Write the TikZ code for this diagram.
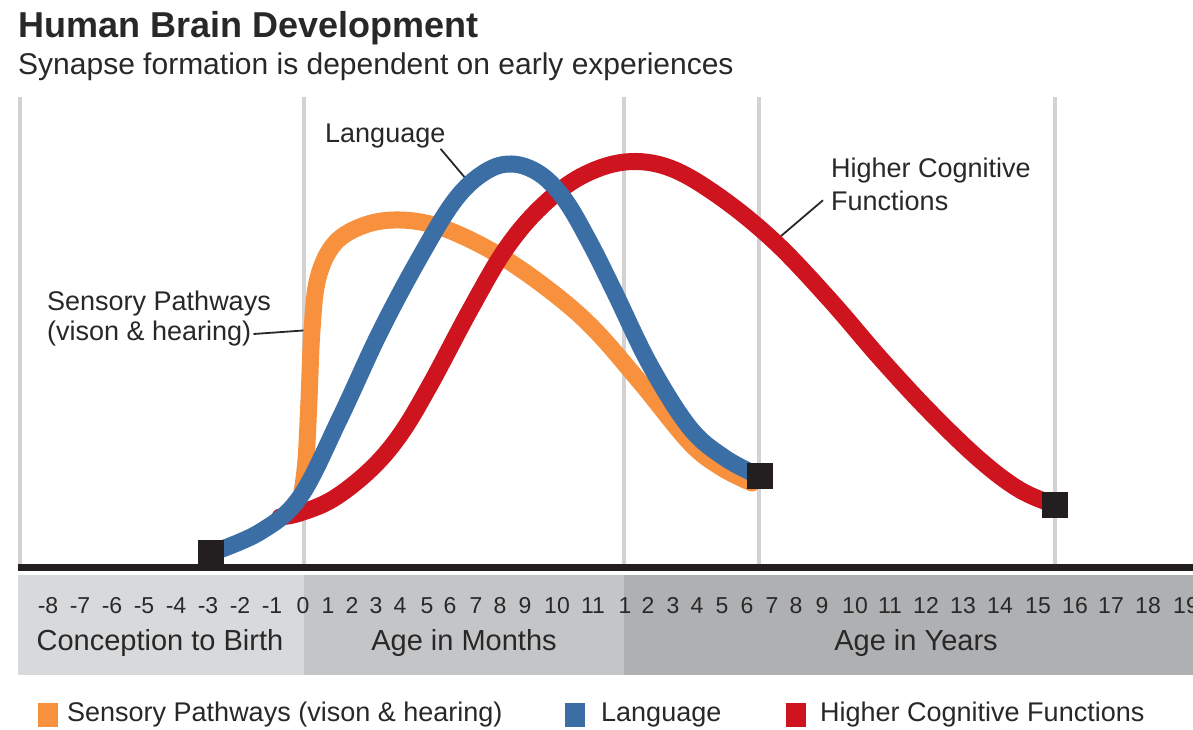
\documentclass[tikz,border=0pt]{standalone}
\usepackage{fontspec}
\setmainfont{Liberation Sans}
\definecolor{cOrange}{RGB}{247,145,61}
\definecolor{cBlue}{RGB}{59,110,164}
\definecolor{cRed}{RGB}{206,20,30}
\definecolor{cGrid}{RGB}{210,210,210}
\definecolor{cBandA}{RGB}{216,217,219}
\definecolor{cBandB}{RGB}{196,197,199}
\definecolor{cBandC}{RGB}{175,176,178}
\definecolor{cInk}{RGB}{40,40,40}
\definecolor{cSq}{RGB}{35,31,32}
\begin{document}
\begin{tikzpicture}[x=1pt,y=-1pt,
  curve/.style={line width=17pt, line join=round, line cap=round},
  marker/.style={fill=cSq, draw=none, minimum size=26pt, inner sep=0pt},
  legsq/.style={draw=none, minimum width=20pt, minimum height=24pt, inner sep=0pt},
  lbl/.style={font=\fontsize{27}{31}\selectfont, text=cInk, inner sep=0pt},
  leglbl/.style={font=\fontsize{27}{31}\selectfont, text=cInk, inner sep=0pt, anchor=west},
  band/.style={font=\fontsize{29}{33}\selectfont, text=cInk, inner sep=0pt, anchor=base},
  num/.style={font=\fontsize{23}{27}\selectfont, text=cInk, inner sep=0pt, anchor=base},
  leader/.style={draw=cInk, line width=1.8pt},
  grid/.style={draw=cGrid, line width=4pt}]
\useasboundingbox (0,0) rectangle (1193,730);
\fill[white] (0,0) rectangle (1193,730);

% title
\node[font=\fontsize{36}{40}\selectfont\bfseries, text=cInk, inner sep=0pt, anchor=base west] (title) at (18,38) {Human Brain Development};
\node[font=\fontsize{30}{34}\selectfont, text=cInk, inner sep=0pt, anchor=base west] (subtitle) at (18,75) {Synapse formation is dependent on early experiences};

% bands
\fill[cBandA] (18,575) rectangle (304,675);
\fill[cBandB] (304,575) rectangle (624,675);
\fill[cBandC] (624,575) rectangle (1193,675);

% vertical grid lines
\foreach \gx in {20,304,624,759,1055} \draw[grid] (\gx,97) -- (\gx,565);

% axis
\draw[cSq, line width=7pt] (18,567) -- (1193,567);

% numbers
\foreach \nx/\nt [count=\i] in {48/-8,80/-7,112/-6,144/-5,176/-4,208/-3,240/-2,272/-1,303/0,328/1,352/2,376/3,400/4,427/5,450/6,476/7,500/8,525/9,557/10,593/11}
  \node[num] (m\i) at (\nx,613) {\nt};
\foreach \nx/\nt [count=\i] in {625/1,648/2,673/3,697/4,722/5,747/6,772/7,796/8,822/9,855/10,890/11,926/12,963/13,1000/14,1038/15,1075/16,1111/17,1148/18,1186/19}
  \node[num] (y\i) at (\nx,613) {\nt};

\node[band] (bandA) at (160,650) {Conception to Birth};
\node[band] (bandB) at (464,650) {Age in Months};
\node[band] (bandC) at (916,650) {Age in Years};

% labels and leaders
\node[lbl, anchor=base west] (langlbl) at (325,143) {Language};
\coordinate (langpt) at (472,186);
\draw[leader] ([xshift=-5pt]langlbl.south east) -- (langpt);

\node[lbl, anchor=base west] (sens1) at (47,310) {Sensory Pathways};
\node[lbl, anchor=base west] (sens2) at (47,340) {(vison \& hearing)};
\coordinate (senspt) at (310,330);
\draw[leader] ([xshift=2pt,yshift=-1pt]sens2.east) -- (senspt);

\node[lbl, anchor=base west] (hcf1) at (831,178) {Higher Cognitive};
\node[lbl, anchor=base west] (hcf2) at (831,210) {Functions};
\coordinate (hcfpt) at (774,242);
\draw[leader] (hcf2.north west) ++(-8pt,-10pt) coordinate (hcfst) -- (hcfpt);

% curves
\draw[curve, cOrange] plot[smooth, tension=0.6] coordinates {(302,492) (306,460) (309,400) (312,330) (318,278) (335,243) (365,225) (400,220) (440,227) (490,250) (540,283) (590,325) (640,382) (690,443) (722,468) (752,483)};
\draw[curve, cRed] plot[smooth, tension=0.6] coordinates {(280,517) (300,513) (333,499) (370,470) (400,435) (430,385) (470,310) (505,250) (540,208) (580,177) (625,162) (670,168) (720,197) (775,242) (830,300) (880,358) (930,412) (980,460) (1020,490) (1055,505)};
\draw[curve, cBlue] plot[smooth, tension=0.6] coordinates {(211,553) (260,532) (300,497) (340,418) (380,332) (420,257) (455,200) (485,172) (512,164) (540,174) (565,200) (590,243) (615,293) (650,365) (690,428) (725,458) (759,476)};

% end markers
\node[marker] (sqA) at (211,553) {};
\node[marker] (sqB) at (760,476) {};
\node[marker] (sqC) at (1055,505) {};

% legend
\node[legsq, fill=cOrange] (legO) at (48,715) {};
\node[leglbl] (legOt) at (67,715) {Sensory Pathways (vison \& hearing)};
\node[legsq, fill=cBlue] (legB) at (575,715) {};
\node[leglbl] (legBt) at (601,715) {Language};
\node[legsq, fill=cRed] (legR) at (796,715) {};
\node[leglbl] (legRt) at (820,715) {Higher Cognitive Functions};
\end{tikzpicture}
\end{document}
